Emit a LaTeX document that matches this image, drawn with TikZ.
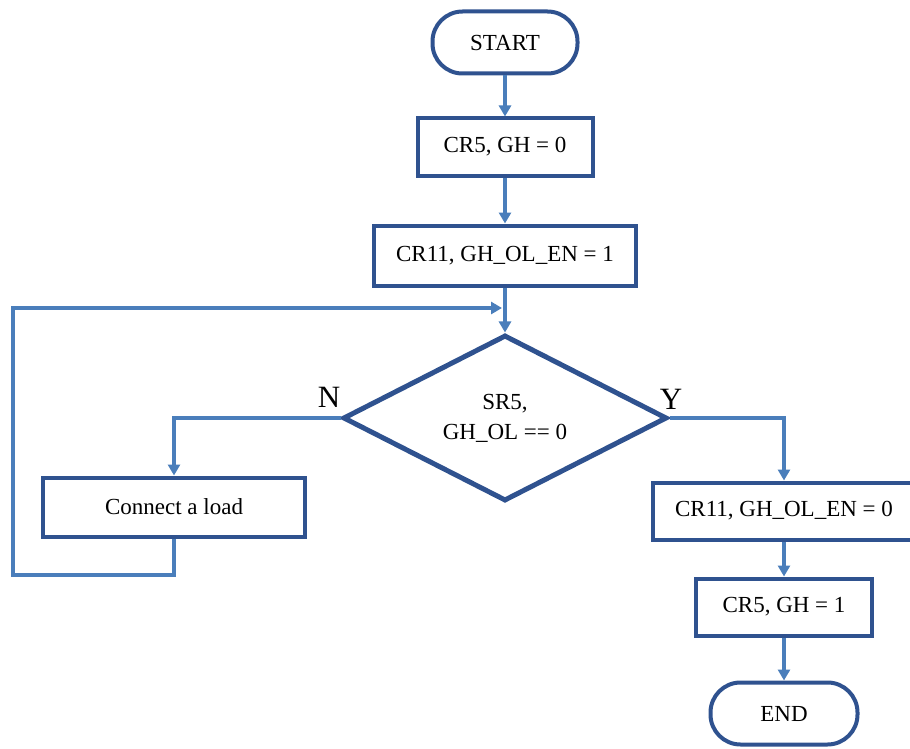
\documentclass[tikz,border=0pt]{standalone}
\usepackage{fontspec}
\setmainfont{Liberation Serif}
\usetikzlibrary{arrows.meta,shapes.geometric}
\definecolor{boxc}{RGB}{47,82,143}
\definecolor{arrc}{RGB}{74,126,187}
\begin{document}
\begin{tikzpicture}[x=1pt,y=-1pt,
  box/.style={draw=boxc,line width=4pt,inner sep=0pt,font=\fontsize{23}{30}\selectfont,align=center},
  term/.style={box,rounded corners=30pt},
  decision/.style={box,shape=diamond,shape aspect=2,line width=5pt},
  arr/.style={draw=arrc,line width=3.2pt,-{Triangle[width=12pt,length=11pt]}},
  lbl/.style={font=\fontsize{31}{34}\selectfont,inner sep=0pt}]
\useasboundingbox (0,0) rectangle (910,749);
\node[term,minimum width=145pt,minimum height=62pt] (start) at (505,42.5) {START};
\node[box,minimum width=175pt,minimum height=57pt] (cra) at (505,147) {CR5, GH = 0};
\node[box,minimum width=262pt,minimum height=60pt] (crb) at (505,255.5) {CR11, GH\_OL\_EN = 1};
\node[decision,minimum width=324pt,minimum height=166pt] (dia) at (505,418) {SR5,\\GH\_OL == 0};
\node[box,minimum width=262pt,minimum height=59pt] (load) at (174,507) {Connect a load};
\node[box,minimum width=263pt,minimum height=57pt] (crc) at (784,511) {CR11, GH\_OL\_EN = 0};
\node[box,minimum width=176pt,minimum height=57pt] (crd) at (784,607) {CR5, GH = 1};
\node[term,minimum width=147pt,minimum height=62pt] (end) at (784,713.5) {END};
\node[lbl] (n) at (329,397) {N};
\node[lbl] (y) at (671,399) {Y};
\coordinate (la) at (174,575);
\coordinate (lb) at (13,575);
\coordinate (lc) at (13,308);
\coordinate (loopin) at (502,308);
\draw[arr] (start) -- (cra);
\draw[arr] (cra) -- (crb);
\draw[arr] (crb) -- (dia);
\draw[arr] (dia.west) -| (load.north);
\draw[arr] (dia.east) -| (crc.north);
\draw[arr] (crc) -- (crd);
\draw[arr] (crd) -- (end);
\draw[arr] (load.south) -- (la) -- (lb) -- (lc) -- (loopin);
\end{tikzpicture}
\end{document}
